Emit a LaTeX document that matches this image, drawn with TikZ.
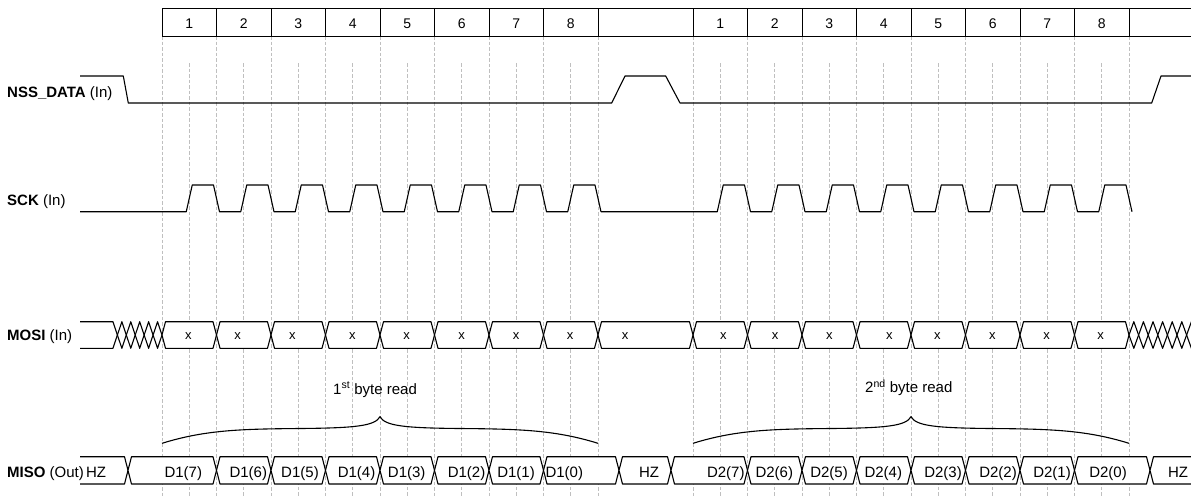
\documentclass[tikz,border=0pt]{standalone}
\usepackage{fontspec}
\setmainfont{Liberation Sans}
\newcommand\bcell[5]{%
  \pgfmathsetmacro\mymid{(#3+#4)/2}%
  \filldraw[sig,fill=white] ({#1},\mymid) -- ({#1+#5},#3) -- ({#2-#5},#3) -- ({#2},\mymid) -- ({#2-#5},#4) -- ({#1+#5},#4) -- cycle;}
\begin{document}
\begin{tikzpicture}[x=1pt,y=-1pt,
  sig/.style={line width=1.1pt,line join=round},
  grid/.style={draw=gray!50,line width=0.8pt,dash pattern=on 3.5pt off 2pt},
  hdr/.style={line width=1pt},
  lab/.style={anchor=base west,inner sep=0pt,font=\fontsize{15pt}{18pt}\selectfont},
  hnum/.style={anchor=base,inner sep=0pt,font=\fontsize{14pt}{17pt}\selectfont},
  mtext/.style={anchor=base,inner sep=0pt,font=\fontsize{15pt}{18pt}\selectfont},
  xtext/.style={anchor=base,inner sep=0pt,font=\fontsize{13pt}{16pt}\selectfont},
  brace/.style={line width=1.1pt}]
\useasboundingbox (0,0) rectangle (1191,496);
% grid
\foreach \k in {0,...,8}{
  \draw[grid] ({162+54.5*\k},36) -- ({162+54.5*\k},496);
  \draw[grid] ({693+54.5*\k},36) -- ({693+54.5*\k},496);
}
\foreach \k in {0,...,7}{
  \draw[grid] ({189.25+54.5*\k},63) -- ({189.25+54.5*\k},496);
  \draw[grid] ({720.25+54.5*\k},63) -- ({720.25+54.5*\k},496);
}
% header
\draw[hdr] (162,8) -- (1195,8) (162,36) -- (1195,36);
\foreach \k in {0,...,8}{
  \draw[hdr] ({162+54.5*\k},8) -- ({162+54.5*\k},36);
  \draw[hdr] ({693+54.5*\k},8) -- ({693+54.5*\k},36);
}
\foreach \n in {1,...,8}{
  \node[hnum] (ha\n) at ({189.25+54.5*(\n-1)},28.3) {\n};
  \node[hnum] (hb\n) at ({720.25+54.5*(\n-1)},28.3) {\n};
}
% NSS
\draw[sig] (80,76) -- (123.3,76) -- (128.3,103) -- (611.7,103) -- (625,76) -- (665.7,76) -- (680,103) -- (1151.7,103) -- (1161,76) -- (1195,76);
% SCK
\draw[sig] (80,211.7)
  \foreach \m in {189.25,243.75,298.25,352.75,407.25,461.75,516.25,570.75,720.25,774.75,829.25,883.75,938.25,992.75,1047.25,1101.75}{
    -- ({\m-3},211.7) -- ({\m+3},185) -- ({\m+24.25},185) -- ({\m+30.25},211.7)}
  -- (1132,211.7);
% MOSI
\filldraw[sig,fill=white] (80,321.7) -- (112.94,321.7) -- (117.4,335) -- (112.94,348.3) -- (80,348.3);
\foreach \i in {0,...,4}{
  \pgfmathsetmacro\aa{117.4+8.92*\i}\pgfmathsetmacro\bb{\aa+8.92}
  \bcell{\aa}{\bb}{321.7}{348.3}{4.46}
}
\foreach \k in {0,...,7}{
  \pgfmathsetmacro\aa{162+54.5*\k}\pgfmathsetmacro\bb{\aa+54.5}
  \bcell{\aa}{\bb}{321.7}{348.3}{3.5}
  \pgfmathsetmacro\aa{693+54.5*\k}\pgfmathsetmacro\bb{\aa+54.5}
  \bcell{\aa}{\bb}{321.7}{348.3}{3.5}
}
\bcell{598}{693}{321.7}{348.3}{3.5}
\foreach \i in {0,...,5}{
  \pgfmathsetmacro\aa{1129+9.6*\i}\pgfmathsetmacro\bb{\aa+9.6}
  \bcell{\aa}{\bb}{321.7}{348.3}{4.8}
}
\draw[sig] (1195,321.7) -- (1191.4,321.7) -- (1186.6,335) -- (1191.4,348.3) -- (1195,348.3);
\foreach \x [count=\i] in {188.3,237.7,292.3,352.3,406.7,461.7,516,570,625,723.3,775,829.3,889.3,937.3,992.3,1046.7,1100.7}{
  \node[xtext] (x\i) at (\x,339) {x};
}
% MISO
\filldraw[sig,fill=white] (80,456.7) -- (124.5,456.7) -- (128,470.35) -- (124.5,484) -- (80,484);
\foreach \aa/\bb in {128/216.5,216.5/271,271/325.5,325.5/380,380/434.5,434.5/489,489/543.5,543.5/619,619/671,671/747.5,747.5/802,802/856.5,856.5/911,911/965.5,965.5/1020,1020/1074.5,1074.5/1150}{
  \bcell{\aa}{\bb}{456.7}{484}{3.5}
}
\filldraw[sig,fill=white] (1195,456.7) -- (1153.5,456.7) -- (1150,470.35) -- (1153.5,484) -- (1195,484);
\foreach \x/\t [count=\i] in {96/HZ,183.3/D1(7),248.3/D1(6),300/D1(5),356.5/D1(4),406.7/D1(3),466.5/D1(2),516/D1(1),564.3/D1(0),649/HZ,725.8/D2(7),774.3/D2(6),829/D2(5),883.3/D2(4),943/D2(3),998/D2(2),1052/D2(1),1108/D2(0),1178/HZ}{
  \node[mtext] (m\i) at (\x,477.3) {\t};
}
% braces
\draw[brace] (162,443.3) .. controls (205,430) and (240,429) .. (300,428.5) .. controls (355,428) and (375,426) .. (380,416.7) .. controls (385,426) and (405,428) .. (460,428.5) .. controls (520,429) and (555,430) .. (598,443.3);
\begin{scope}[xshift=531pt]
\draw[brace] (162,443.3) .. controls (205,430) and (240,429) .. (300,428.5) .. controls (355,428) and (375,426) .. (380,416.7) .. controls (385,426) and (405,428) .. (460,428.5) .. controls (520,429) and (555,430) .. (598,443.3);
\end{scope}
\node[lab] (b1) at (333,394) {1\textsuperscript{st} byte read};
\node[lab] (b2) at (865,392.3) {2\textsuperscript{nd} byte read};
% labels (on top)
\node[lab] (lnss) at (7,97) {\textbf{NSS\_DATA} (In)};
\node[lab] (lsck) at (7,205.7) {\textbf{SCK} (In)};
\node[lab] (lmosi) at (7,340.7) {\textbf{MOSI} (In)};
\node[lab] (lmiso) at (7,477.3) {\textbf{MISO} (Out)};
\end{tikzpicture}
\end{document}
